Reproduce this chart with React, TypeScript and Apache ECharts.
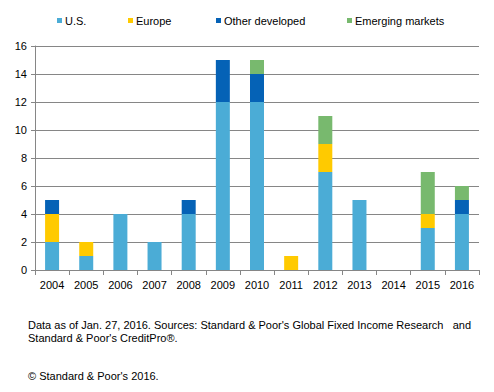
import React, { useEffect, useRef } from "react";
import * as echarts from "echarts";

const years = ["2004", "2005", "2006", "2007", "2008", "2009", "2010", "2011", "2012", "2013", "2014", "2015", "2016"];
const us = [2, 1, 4, 2, 4, 12, 12, 0, 7, 5, 0, 3, 4];
const europe = [2, 1, 0, 0, 0, 0, 0, 1, 2, 0, 0, 1, 0];
const otherDeveloped = [1, 0, 0, 0, 1, 3, 2, 0, 0, 0, 0, 0, 1];
const emerging = [0, 0, 0, 0, 0, 0, 1, 0, 2, 0, 0, 3, 1];
const seriesNames = ["U.S.", "Europe", "Other developed", "Emerging markets"];
const colors = ["#4BACD6", "#FFCA00", "#0562B6", "#78B96E"];
const yTicks = [0, 2, 4, 6, 8, 10, 12, 14, 16];
const footLine1 = "Data as of Jan. 27, 2016. Sources: Standard & Poor's Global Fixed Income Research";
const footLine1End = "and";
const footLine2 = "Standard & Poor's CreditPro®.";
const footLine3 = "© Standard & Poor's 2016.";

const FONT = "Arial, 'Liberation Sans', sans-serif";

export default function App() {
  const ref = useRef<HTMLDivElement>(null);
  useEffect(() => {
    const chart = echarts.init(ref.current!, null, { renderer: "svg" });
    const dataSets = [us, europe, otherDeveloped, emerging];
    const legendLeft = [57, 128, 216, 347];
    chart.setOption({
      animation: false,
      textStyle: { fontFamily: FONT },
      color: colors,
      legend: seriesNames.map((n, i) => ({
        data: [n],
        left: legendLeft[i],
        top: 15,
        icon: "rect",
        itemWidth: 5,
        itemHeight: 5,
        padding: 0,
        selectedMode: false,
        textStyle: { fontSize: 11, color: "#000", fontFamily: FONT, padding: [0, 0, 0, -2] },
      })),
      grid: { left: 35, right: 15, top: 46, bottom: 122 },
      xAxis: {
        type: "category",
        data: years,
        axisLine: { lineStyle: { color: "#868686", width: 1 } },
        axisTick: { show: true, interval: 0, length: 5, lineStyle: { color: "#868686" } },
        axisLabel: { color: "#000", fontSize: 11, margin: 9, fontFamily: FONT, interval: 0 },
      },
      yAxis: {
        type: "value",
        min: yTicks[0],
        max: yTicks[yTicks.length - 1],
        interval: 2,
        axisLine: { show: true, lineStyle: { color: "#868686", width: 1 } },
        axisTick: { show: true, length: 4, lineStyle: { color: "#868686" } },
        axisLabel: { color: "#000", fontSize: 11, margin: 8, fontFamily: FONT },
        splitLine: { lineStyle: { color: "#868686", width: 1 } },
      },
      series: seriesNames.map((n, i) => ({
        name: n,
        type: "bar",
        stack: "total",
        barWidth: 14,
        data: dataSets[i],
        itemStyle: { color: colors[i] },
      })),
      graphic: [
        { type: "text", left: 28, top: 319, style: { text: footLine1, font: `11px ${FONT}`, fill: "#000" } },
        { type: "text", right: 23, top: 319, style: { text: footLine1End, font: `11px ${FONT}`, fill: "#000" } },
        { type: "text", left: 28, top: 332, style: { text: footLine2, font: `11px ${FONT}`, fill: "#000" } },
        { type: "text", left: 28, top: 370, style: { text: footLine3, font: `11px ${FONT}`, fill: "#000" } },
      ],
    });
    return () => chart.dispose();
  }, []);
  return <div ref={ref} style={{ position: "fixed", left: 0, top: 0, width: 494, height: 392, background: "#fff" }} />;
}
